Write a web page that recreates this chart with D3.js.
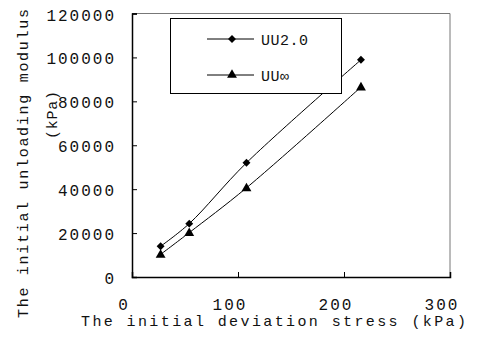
<!DOCTYPE html>
<html><head><meta charset="utf-8">
<script src="https://cdn.jsdelivr.net/npm/d3@7"></script>
<style>body{margin:0;background:#fff}svg{display:block}text{font-family:"Liberation Mono",monospace;fill:#111}</style>
</head><body>
<script>
const stress = [27, 54, 108, 216];
const uu20 = [14000, 24300, 52000, 98900];
const uuInf = [10300, 20200, 40600, 86500];
const seriesNames = ["UU2.0", "UU\u221e"];
const xTicks = [0, 100, 200, 300];
const yTicks = [0, 20000, 40000, 60000, 80000, 100000, 120000];
const xTitle = "The initial deviation stress (kPa)";
const yTitle1 = "The initial unloading modulus";
const yTitle2 = "(kPa)";

const W = 481, H = 337;
const L = 132, T = 13.5, R = 450, B = 277;
const svg = d3.select("body").append("svg").attr("width", W).attr("height", H);
const x = d3.scaleLinear().domain([0, 300]).range([L, R]);
const y = d3.scaleLinear().domain([0, 120000]).range([B, T]);

// frame top/right
svg.append("path").attr("d", `M${L},${T}H${R}V${B}`).attr("fill", "none").attr("stroke", "#777").attr("stroke-width", 1);

// axes
const yAxis = svg.append("g").attr("transform", `translate(${L},0)`)
  .call(d3.axisRight(y).tickValues(yTicks).tickSize(5).tickFormat(""));
const xAxis = svg.append("g").attr("transform", `translate(0,${B})`)
  .call(d3.axisTop(x).tickValues(xTicks).tickSize(5).tickFormat(""));
[yAxis, xAxis].forEach(g => {
  g.select(".domain").attr("stroke", "#000").attr("stroke-width", 1.5);
  g.selectAll(".tick line").attr("stroke", "#000").attr("stroke-width", 1);
});

// tick labels
svg.append("g").selectAll("text").data(yTicks).join("text")
  .attr("x", 116).attr("y", d => y(d) + 7).attr("text-anchor", "end")
  .attr("font-size", 16).attr("letter-spacing", 2).text(d => d);
svg.append("g").selectAll("text").data(xTicks).join("text")
  .attr("x", d => x(d) - 8).attr("y", 310).attr("text-anchor", "middle")
  .attr("font-size", 16).attr("letter-spacing", 2).text(d => d);

// axis titles
svg.append("text").attr("x", 81).attr("y", 326).attr("font-size", 15)
  .attr("textLength", 385).attr("lengthAdjust", "spacing").text(xTitle);
svg.append("text").attr("transform", "translate(28,318) rotate(-90)").attr("font-size", 15)
  .attr("textLength", 309).attr("lengthAdjust", "spacing").text(yTitle1);
svg.append("text").attr("transform", "translate(57,139) rotate(-90)").attr("font-size", 15)
  .attr("textLength", 48).attr("lengthAdjust", "spacing").text(yTitle2);

// lines
const line = d3.line().x(d => x(d[0])).y(d => y(d[1])).curve(d3.curveCatmullRom.alpha(0.5));
const s1 = stress.map((s, i) => [s, uu20[i]]);
const s2 = stress.map((s, i) => [s, uuInf[i]]);
svg.append("path").attr("d", line(s1)).attr("fill", "none").attr("stroke", "#000").attr("stroke-width", 1);
svg.append("path").attr("d", line(s2)).attr("fill", "none").attr("stroke", "#000").attr("stroke-width", 1);

const diamond = d3.symbol().type(d3.symbolDiamond2).size(40);
const tri = d3.symbol().type(d3.symbolTriangle).size(42);
svg.append("g").selectAll("path").data(s1).join("path")
  .attr("transform", d => `translate(${x(d[0])},${y(d[1])})`).attr("d", diamond).attr("fill", "#000");
svg.append("g").selectAll("path").data(s2).join("path")
  .attr("transform", d => `translate(${x(d[0])},${y(d[1]) + 0.5})`).attr("d", tri).attr("fill", "#000");

// legend
const lg = svg.append("g");
lg.append("rect").attr("x", 170.5).attr("y", 18.5).attr("width", 171).attr("height", 75)
  .attr("fill", "#fff").attr("stroke", "#000").attr("stroke-width", 1);
const ly = [39, 75];
const shapes = [diamond, tri];
seriesNames.forEach((n, i) => {
  lg.append("line").attr("x1", 207).attr("x2", 254).attr("y1", ly[i]).attr("y2", ly[i]).attr("stroke", "#000");
  lg.append("path").attr("transform", `translate(232,${ly[i]})`).attr("d", shapes[i]).attr("fill", "#000");
  lg.append("text").attr("x", 261).attr("y", ly[i] + 5.5).attr("font-size", 15).attr("letter-spacing", 0.5).text(n);
});
</script>
</body></html>
